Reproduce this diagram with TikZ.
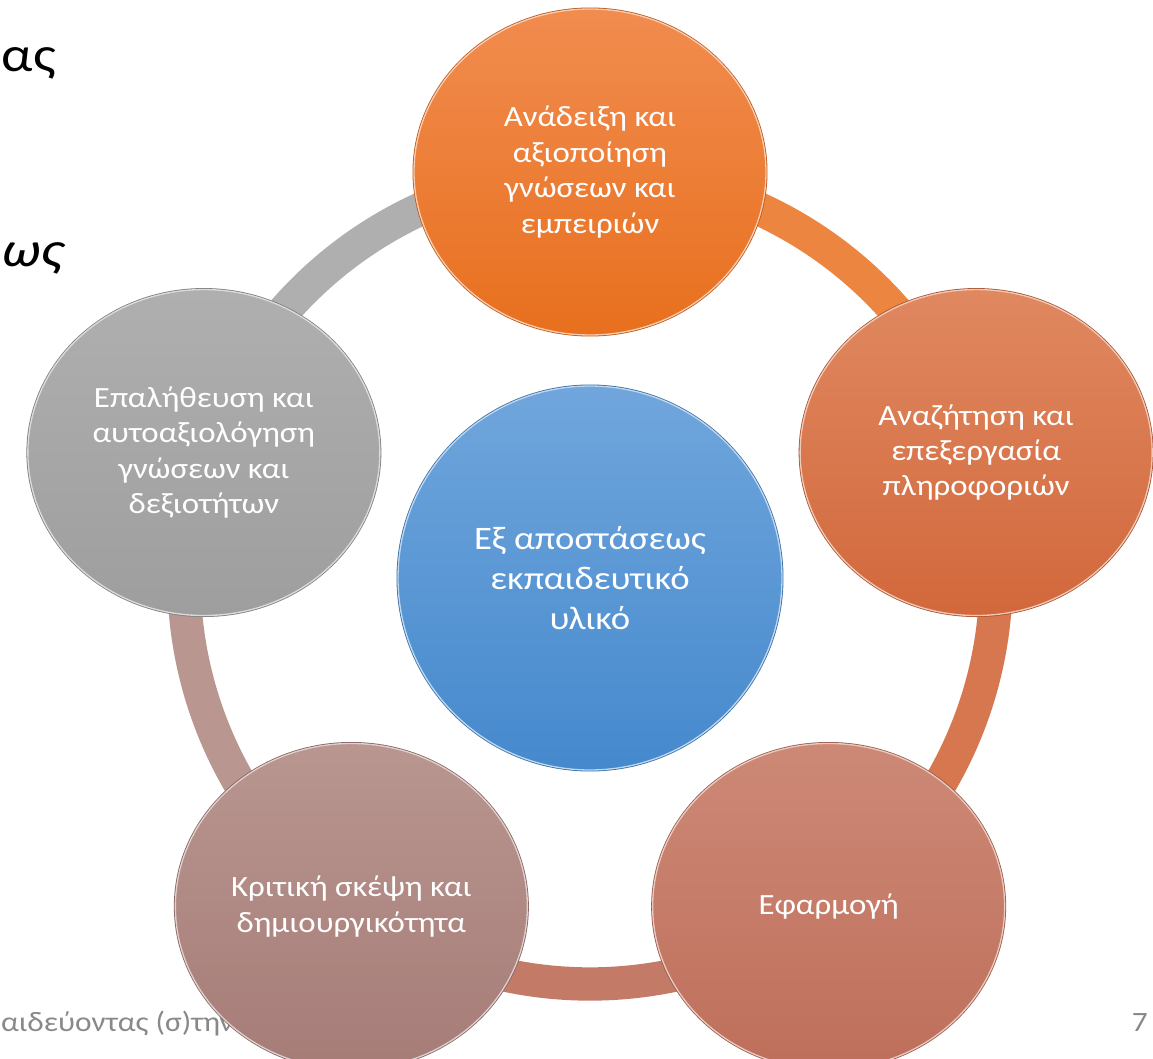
\documentclass[tikz,border=0pt]{standalone}
\usepackage{fontspec}
\setmainfont{Carlito}[FakeStretch=1.12]
\newfontfamily\headslant{Carlito}[FakeStretch=1.12, FakeSlant=0.2]
\usetikzlibrary{shapes.geometric,backgrounds,calc}

\definecolor{ambertop}{RGB}{241,140,79}
\definecolor{amberbot}{RGB}{232,112,30}
\definecolor{coppertop}{RGB}{224,136,96}
\definecolor{copperbot}{RGB}{210,104,60}
\definecolor{salmontop}{RGB}{205,137,118}
\definecolor{salmonbot}{RGB}{190,111,91}
\definecolor{rosetop}{RGB}{185,150,144}
\definecolor{rosebot}{RGB}{166,124,119}
\definecolor{ashtop}{RGB}{175,175,175}
\definecolor{ashbot}{RGB}{158,158,158}
\definecolor{skytop}{RGB}{112,166,220}
\definecolor{skybot}{RGB}{69,137,205}
\definecolor{footgray}{RGB}{137,137,137}

\begin{document}
\begin{tikzpicture}[x=0.75pt,y=0.75pt,
		bubble/.style 2 args={ellipse, minimum width=264pt, minimum height=244.5pt, inner sep=0pt,
			top color=#1, bottom color=#2, preaction={draw=#2!80!black, line width=2.2pt},
			draw=#1!45!white, line width=1pt,
			text=white, align=center, font=\fontsize{22}{26.6}\selectfont},
		ringarc/.style={line width=25pt, draw=#1, line cap=butt}]
	\useasboundingbox (0,0) rectangle (1153,-1059);
	% slide text behind the diagram
	\node[anchor=base east, font=\fontsize{37}{44}\selectfont, inner sep=0pt] (headA) at (56,-72) {ας};
	\node[anchor=base east, font=\fontsize{37}{44}\headslant, inner sep=0pt] (headB) at (62,-267) {ως};
	\node[anchor=base east, font=\fontsize{21}{25}\selectfont, text=footgray, inner sep=0pt] (foot) at (234,-1031) {αιδεύοντας (σ)την};
	\node[anchor=base east, font=\fontsize{21}{25}\selectfont, text=footgray, inner sep=0pt] (page) at (1148,-1031) {7};

	\node[circle, minimum size=288pt, inner sep=0pt, top color=skytop, bottom color=skybot,
		preaction={draw=skybot!80!black, line width=2.2pt}, draw=skytop!45!white, line width=1pt,
		text=white, align=center, font=\fontsize{24.6}{30}\selectfont] (core) at (590,-578) {Εξ αποστάσεως\\εκπαιδευτικό\\υλικό};

	\node[bubble={ambertop}{amberbot}] (show) at ($(core)+(90:406)$) {Ανάδειξη και\\αξιοποίηση\\γνώσεων και\\εμπειριών};
	\node[bubble={coppertop}{copperbot}] (seek) at ($(core)+(18:406)$) {Αναζήτηση και\\επεξεργασία\\πληροφοριών};
	\node[bubble={salmontop}{salmonbot}] (apply) at ($(core)+(-54:406)$) {Εφαρμογή};
	\node[bubble={rosetop}{rosebot}] (think) at ($(core)+(-126:406)$) {Κριτική σκέψη και\\δημιουργικότητα};
	\node[bubble={ashtop}{ashbot}] (check) at ($(core)+(162:406)$) {Επαλήθευση και\\αυτοαξιολόγηση\\γνώσεων και\\δεξιοτήτων};

	\begin{scope}[on background layer]
		\foreach \from/\ang/\col in {show/90/amberbot!85!white, seek/18/copperbot!90!white, apply/-54/salmonbot!92!white, think/-126/rosetop, check/162/ashtop}
			\draw[ringarc=\col] (\from.center) arc[start angle=\ang, delta angle=-72, radius=406];
	\end{scope}
\end{tikzpicture}
\end{document}
